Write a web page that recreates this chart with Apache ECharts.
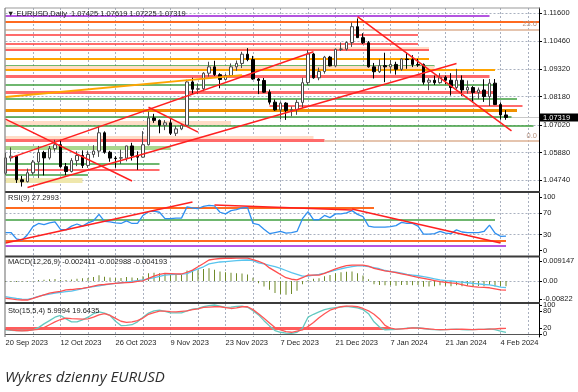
<!DOCTYPE html>
<html><head><meta charset="utf-8">
<script src="https://cdn.jsdelivr.net/npm/echarts@6/dist/echarts.min.js"></script>
<style>html,body{margin:0;padding:0;background:#fff;overflow:hidden}#c{width:578px;height:392px}</style>
</head><body><div id="c"></div>
<script>
// ---------- DATA ----------
const sessionDays = [
  ['Sep 2023',[28,29]],
  ['Oct 2023',[2,3,4,5,6,9,10,11,12,13,16,17,18,19,20,23,24,25,26,27,30,31]],
  ['Nov 2023',[1,2,3,6,7,8,9,10,13,14,15,16,17,20,21,22,23,24,27,28,29,30]],
  ['Dec 2023',[1,4,5,6,7,8,11,12,13,14,15,18,19,20,21,22,26,27,28,29]],
  ['Jan 2024',[2,3,4,5,8,9,10,11,12,15,16,17,18,19,22,23,24,25,26,29,30,31]],
  ['Feb 2024',[1,2,5,6]]
];
const emptySlots = ['f1','f2','f3','f4','f5','f6'];
const tickIndex = [0,10,20,30,40,50,60,70,80,90];
const tickLabels = ['20 Sep 2023','12 Oct 2023','26 Oct 2023','9 Nov 2023','23 Nov 2023','7 Dec 2023','21 Dec 2023','7 Jan 2024','21 Jan 2024','4 Feb 2024'];

const opens = [1.0503,1.0566,1.0573,1.0476,1.0468,1.0505,1.0549,1.0588,1.0566,1.0604,
1.0620,1.0530,1.0510,1.0555,1.0576,1.0535,1.0580,1.0594,1.0669,1.0589,
1.0565,1.0565,1.0565,1.0615,1.0576,1.0569,1.0620,1.0730,1.0720,1.0700,
1.0710,1.0667,1.0685,1.0700,1.0878,1.0848,1.0850,1.0914,1.0940,1.0908,
1.0888,1.0904,1.0940,1.0954,1.0992,1.0970,1.0890,1.0884,1.0836,1.0795,
1.0763,1.0791,1.0761,1.0764,1.0794,1.0875,1.0993,1.0895,1.0921,1.0980,
1.0944,1.1012,1.1013,1.1040,1.1105,1.1060,1.1039,1.0940,1.0920,1.0945,
1.0940,1.0950,1.0930,1.0972,1.0970,1.0950,1.0950,1.0877,1.0885,1.0875,
1.0897,1.0885,1.0855,1.0885,1.0845,1.0855,1.0835,1.0845,1.0818,1.0873,
1.0785,1.07425];
const highs = [1.0587,1.0609,1.0578,1.0492,1.0522,1.0557,1.0615,1.0595,1.0615,1.0640,
1.0640,1.0545,1.0565,1.0593,1.0597,1.0596,1.0618,1.0695,1.0675,1.0595,
1.0573,1.0600,1.0616,1.0628,1.0593,1.0676,1.0756,1.0747,1.0724,1.0721,
1.0725,1.0697,1.0706,1.0887,1.0895,1.0872,1.0918,1.0961,1.0965,1.0914,
1.0911,1.0954,1.0966,1.1002,1.1017,1.0985,1.0894,1.0894,1.0847,1.0806,
1.0797,1.0795,1.0777,1.0805,1.0895,1.1009,1.0997,1.0937,1.0985,1.0985,
1.1016,1.1040,1.1045,1.1122,1.1139,1.1078,1.1046,1.0956,1.0971,1.0998,
1.0968,1.0961,1.0975,1.0999,1.0988,1.0973,1.0954,1.0894,1.0904,1.0914,
1.0904,1.0914,1.0932,1.0905,1.0884,1.0861,1.0855,1.0889,1.0890,1.0890,
1.0794,1.07619];
const lows = [1.0496,1.0551,1.0463,1.0448,1.0465,1.0497,1.0483,1.0494,1.0559,1.0592,
1.0525,1.0495,1.0506,1.0532,1.0524,1.0525,1.0567,1.0570,1.0583,1.0550,
1.0525,1.0541,1.0552,1.0555,1.0517,1.0567,1.0617,1.0710,1.0667,1.0680,
1.0660,1.0656,1.0680,1.0695,1.0828,1.0828,1.0840,1.0900,1.0903,1.0852,
1.0885,1.0903,1.0924,1.0935,1.0963,1.0887,1.0828,1.0833,1.0785,1.0759,
1.0724,1.0722,1.0737,1.0743,1.0770,1.0865,1.0891,1.0885,1.0912,1.0942,
1.0938,1.1005,1.1007,1.1022,1.1059,1.1034,1.0937,1.0892,1.0915,1.0877,
1.0915,1.0908,1.0924,1.0932,1.0939,1.0940,1.0867,1.0844,1.0866,1.0871,
1.0869,1.0822,1.0848,1.0821,1.0830,1.0795,1.0808,1.0796,1.0779,1.0783,
1.0723,1.07225];
const closes = [1.0566,1.0573,1.0476,1.0468,1.0505,1.0549,1.0588,1.0566,1.0604,1.0620,
1.0530,1.0510,1.0555,1.0576,1.0535,1.0580,1.0594,1.0669,1.0589,1.0565,
1.0563,1.0567,1.0615,1.0576,1.0569,1.0620,1.0730,1.0720,1.0700,1.0710,
1.0667,1.0685,1.0700,1.0878,1.0848,1.0850,1.0914,1.0940,1.0908,1.0888,
1.0904,1.0940,1.0954,1.0992,1.0970,1.0890,1.0884,1.0836,1.0795,1.0763,
1.0791,1.0761,1.0764,1.0794,1.0875,1.0993,1.0895,1.0921,1.0980,1.0944,
1.1012,1.1013,1.1040,1.1105,1.1060,1.1039,1.0940,1.0920,1.0945,1.0940,
1.0950,1.0930,1.0972,1.0970,1.0950,1.0948,1.0877,1.0885,1.0875,1.0897,
1.0885,1.0855,1.0885,1.0845,1.0855,1.0835,1.0845,1.0818,1.0873,1.0785,
1.07425,1.07319];

const rsiValues = [34,34,22,20,30,45,51,49,52,54, 40,39,46,50,46,52,56,68,55,54,
52,51,56,51,51,66,73,74,72,60, 60,61,61,82,80,79,83,85,84,72,
69,75,77,80,81,51,49,40,32,34, 36,33,34,36,60,73,58,58,66,62,
69,69,71,75,68,64,46,44,44,44, 45,47,53,51,51,46,31,31,32,36,
33,32,39,35,34,34,34,36,48,33, 27,27.2993];

const macdHist = [-0.0003,-0.0004,-0.0005,-0.0004,-0.0003,-0.0002,0.0004,0.0006,0.0008,0.0009,
0.0005,0.0004,0.0007,0.0010,0.0012,0.0014,0.0018,0.0026,0.0020,0.0016,
0.0014,0.0014,0.0018,0.0016,0.0014,0.0022,0.0036,0.0038,0.0036,0.0034,
0.0028,0.0027,0.0027,0.0048,0.0050,0.0049,0.0055,0.0058,0.0052,0.0044,
0.0040,0.0038,0.0036,0.0034,0.0030,0.0015,-0.0010,-0.0025,-0.0040,-0.0055,
-0.0060,-0.0063,-0.0060,-0.0045,-0.0015,0.0005,0.0010,0.0012,0.0022,0.0028,
0.0036,0.0040,0.0042,0.0043,0.0035,0.0025,0.0008,-0.0015,-0.0018,-0.0020,
-0.0020,-0.0022,-0.0018,-0.0018,-0.0020,-0.0018,-0.0026,-0.0025,-0.0024,-0.0020,
-0.0022,-0.0024,-0.0020,-0.0024,-0.0022,-0.0024,-0.0023,-0.0024,-0.0018,-0.0025,
-0.0024,-0.002411];
const macdBlue = [-0.0072,-0.0076,-0.0080,-0.0083,-0.0084,-0.0078,-0.0070,-0.0064,-0.0060,-0.0055,
-0.0052,-0.0049,-0.0046,-0.0041,-0.0035,-0.0029,-0.0026,-0.0022,-0.0018,-0.0014,
-0.0011,-0.0008,-0.0005,-0.0002,0.0002,0.0005,0.0010,0.0015,0.0021,0.0027,
0.0029,0.0030,0.0031,0.0034,0.0045,0.0055,0.0065,0.0078,0.0083,0.0087,
0.0089,0.0091,0.0093,0.0095,0.0096,0.0093,0.0083,0.0078,0.0072,0.0066,
0.0058,0.0048,0.0038,0.0030,0.0022,0.0022,0.0027,0.0030,0.0036,0.0043,
0.0050,0.0056,0.0061,0.0066,0.0069,0.0069,0.0066,0.0061,0.0056,0.0048,
0.0043,0.0040,0.0036,0.0030,0.0027,0.0024,0.0020,0.0015,0.0010,0.0005,
0.0002,0.0000,-0.0003,-0.0005,-0.0008,-0.0011,-0.0013,-0.0016,-0.0018,-0.0022,
-0.0028,-0.002988];
const macdRed = [-0.0079,-0.0082,-0.0085,-0.0087,-0.0087,-0.0080,-0.0072,-0.0064,-0.0056,-0.0051,
-0.0047,-0.0041,-0.0039,-0.0036,-0.0034,-0.0029,-0.0023,-0.0018,-0.0016,-0.0013,
-0.0011,-0.0009,-0.0007,-0.0006,-0.0002,0.0001,0.0012,0.0022,0.0030,0.0035,
0.0034,0.0033,0.0032,0.0040,0.0050,0.0065,0.0080,0.0096,0.0100,0.0103,
0.0104,0.0104,0.0105,0.0105,0.0105,0.0098,0.0090,0.0080,0.0060,0.0045,
0.0030,0.0015,0.0008,0.0005,0.0015,0.0027,0.0027,0.0027,0.0035,0.0045,
0.0055,0.0063,0.0070,0.0073,0.0073,0.0073,0.0068,0.0058,0.0052,0.0046,
0.0043,0.0038,0.0033,0.0028,0.0022,0.0017,0.0012,0.0007,0.0002,-0.0003,
-0.0006,-0.0009,-0.0011,-0.0017,-0.0022,-0.0026,-0.0028,-0.0029,-0.0031,-0.0036,
-0.0041,-0.004193];

const stochK = [14,13,12,12,12,14,22,35,46,58, 64,52,42,42,49,58,70,76,72,64,
44,29,30,32,42,58,72,80,82,78, 73,73,73,80,86,88,94,98,100,96,
92,93,95,96,92,80,66,46,28,12, 6,3,2,6,20,58,68,76,84,88,
91,94,95,93,90,84,70,42,24,14, 15,16,18,20,21,22,19,16,15,14,
15,16,17,15,14,15,16,16,18,15, 10,5.9994];
const stochD = [16,14,12,11,12,14,16,22,32,42, 50,55,53,52,51,52,58,66,70,64,
54,44,40,42,46,55,68,74,79,79, 77,76,78,80,84,87,92,93,94,94,
91,88,90,94,94,84,70,54,38,22, 14,8,6,10,14,26,40,56,70,82,
88,94,96,96,94,88,80,68,52,30, 20,17,18,19,21,20,19,18,16,15,
15,16,16,17,16,15,16,16,17,18, 19,19.6435];

// axis tick labels
const priceTicks = [1.1160,1.1046,1.0932,1.0818,1.0702,1.0588,1.0474];
const priceTickLabels = ['1.11600','1.10460','1.09320','1.08180','1.07020','1.05880','1.04740'];
const rsiTicks = [100,70,30,0];
const macdTicks = [0.009147,0,-0.00822];
const macdTickLabels = ['0.009147','0.00','-0.00822'];
const stochTicks = [100,80,20,0];
const stochTickLabels = ['100','80','20','0'];

// drawn support / resistance levels (price, from bar, to bar, kind)
const levelPrice = [1.11489,1.11255,1.10943,1.10708,1.10367,1.10154,1.10092,1.09751,1.09447,1.09353,
  1.09270,1.08995,1.08683,1.08367,1.08079,1.07791,1.07607,1.07340,1.07093,1.06990,
  1.06477,1.06366,1.06366,1.06066,1.05437,1.05162,1.04985,1.04751];
const levelFrom = [0,0,0,0,0,0,0,0,0,0, 0,0,0,0,0,48,0,0,0,0, 0,0,58,0,0,0,0,0];
const levelTo   = [88,97,97,75,75,77,77,77,78,78, 89,88,89,89,93,94,93,92,41,96, 56,58,97,30,28,28,15,14];
const levelKind = ['purple','orangered','tan','red','red','peach','red','orange','green','peach',
  'orange','redThick','green','redThick','green','red','orangeThick','green','peach','green',
  'peach','redThick','tan','greenBand','green','red','green','khaki'];
const fibLevels = [1.10943, 1.06366];
const fibNames = ['23.6','0.0'];

// trend lines [bar, price] -> [bar, price]
const trendStart = [[64,1.1146],[4,1.0444],[1,1.0567],[0,1.0725],[26,1.0774]];
const trendEnd   = [[92,1.0677],[82,1.0954],[56,1.1002],[23,1.0471],[35,1.0672]];
const orangeTrend = [[0,1.0816],[43,1.0906]];

// RSI drawn lines
const rsiTrendStart = [[0,14.4],[38,85.6],[63,78]];
const rsiTrendEnd   = [[34,91],[63,76.2],[90,14.4]];
const rsiLevel = [81,57.5,19,9.4];
const rsiLevelTo = [67,89,91,91];
const rsiLevelKind = ['orangered','green','orangered','purple'];
const stochLevel = 20, stochLevelTo = 70;

const titleText = '\u25BC EURUSD,Daily  1.07425 1.07619 1.07225 1.07319';
const rsiTitle = 'RSI(9) 27.2993';
const macdTitle = 'MACD(12,26,9) -0.002411 -0.002988 -0.004193';
const stochTitle = 'Sto(15,5,4) 5.9994 19.6435';
const caption = 'Wykres dzienny EURUSD';
const lastPrice = 1.07319;

// ---------- BUILD ----------
const categories = [];
sessionDays.forEach(([m, ds]) => ds.forEach(d => categories.push(d + ' ' + m)));
emptySlots.forEach(s => categories.push(s));
const tickMap = {};
tickIndex.forEach((t, i) => tickMap[t] = tickLabels[i]);

const STY = {
  purple:{color:'#b455e0',width:2},
  orangered:{color:'#ff6a1f',width:2},
  tan:{color:'#ddb093',width:1.5},
  red:{color:'#ff3a3a',width:1.5},
  redThick:{color:'#ff6a6a',width:3},
  peach:{color:'#ffdcc6',width:4},
  orange:{color:'#ffa400',width:2},
  orangeThick:{color:'#f09000',width:3},
  green:{color:'#3f9f3f',width:1.5},
  greenBand:{color:'#a9d78e',width:4},
  khaki:{color:'#efe7ac',width:5}
};
const FONT = 'Liberation Sans';
const grids = [
  {left:5.5, width:533.5, top:8, height:184},
  {left:5.5, width:533.5, top:193, height:63},
  {left:5.5, width:533.5, top:257, height:45},
  {left:5.5, width:533.5, top:304, height:33}
];
const gridLine = {color:'#a9b0bf', width:1, type:[2,2]};
function xAx(i){
  return {type:'category', gridIndex:i, data:categories, boundaryGap:false,
    axisLine:{show:i===3, lineStyle:{color:'#555'}}, axisTick:{show:false},
    axisLabel:{show:i===3, interval:(idx)=>tickMap[idx]!==undefined, formatter:(v,idx)=>tickMap[idx]||'',
      align:'left', fontSize:7.5, fontFamily:FONT, color:'#222', margin:2},
    splitLine:{show:true, interval:(idx)=>idx>0 && idx%5===0, lineStyle:gridLine}};
}
function yAx(i, min, max, ticks, fmt, showLabels){
  return {type:'value', gridIndex:i, position:'right', min, max, scale:true,
    axisLine:{show:true, lineStyle:{color:'#000', width:1}},
    axisTick:{show:true, customValues:ticks, length:3, lineStyle:{color:'#000'}},
    axisLabel:{show:showLabels, customValues:ticks, formatter:fmt, fontSize:7.5, fontFamily:FONT, color:'#222', margin:4,
      hideOverlap:false, showMinLabel:true, showMaxLabel:true},
    splitLine:{show:false}};
}
function nearestLabel(ticks, labels){
  return v => { let b=0; ticks.forEach((t,i)=>{ if (Math.abs(t-v) < Math.abs(ticks[b]-v)) b=i; }); return labels[b]; };
}
function hSeg(gi, x1, x2, y, style){
  return {coords:[[x1,y],[x2,y]], lineStyle:Object.assign({opacity:1}, style)};
}
const lastIdx = categories.length - 1;

const gridMain = priceTicks.map(p => hSeg(0, 0, lastIdx, p, gridLine));
const levelData = levelPrice.map((p,i) => hSeg(0, levelFrom[i], levelTo[i], p, STY[levelKind[i]]));
const trendData = trendStart.map((s,i) => ({coords:[s, trendEnd[i]], lineStyle:{color:'#ff2020', width:1.5, opacity:1}}));
trendData.push({coords:orangeTrend, lineStyle:{color:'#ffa400', width:2, opacity:1}});
const priceLine = [hSeg(0, 0, lastIdx, lastPrice, {color:'#c8c8c8', width:1})];

const rsiGrid = [70,30].map(v => hSeg(1, 0, lastIdx, v, gridLine));
const rsiLevels = rsiLevel.map((v,i) => hSeg(1, 0, rsiLevelTo[i], v, STY[rsiLevelKind[i]]));
const rsiTrends = rsiTrendStart.map((s,i) => ({coords:[s, rsiTrendEnd[i]], lineStyle:{color:'#ff2020', width:1.5, opacity:1}}));
const macdGrid = [hSeg(2, 0, lastIdx, 0, gridLine)];
const stochLine = [hSeg(3, 0, stochLevelTo, stochLevel, {color:'#ff4a4a', width:3, opacity:0.9})];

function linesSeries(gi, data, z){
  return {type:'lines', coordinateSystem:'cartesian2d', xAxisIndex:gi, yAxisIndex:gi, data, z, silent:true, animation:false, polyline:false};
}

const option = {
  animation:false,
  backgroundColor:'#ffffff',
  grid: grids,
  xAxis: [xAx(0), xAx(1), xAx(2), xAx(3)],
  yAxis: [
    yAx(0, 1.04258, 1.11818, priceTicks, nearestLabel(priceTicks, priceTickLabels), true),
    yAx(1, -9.93, 108.05, rsiTicks, v => String(Math.round(v)), true),
    yAx(2, -0.00961, 0.01098, macdTicks, nearestLabel(macdTicks, macdTickLabels), true),
    yAx(3, -10.34, 103.45, stochTicks, v => String(Math.round(v)), false)
  ],
  series: [
    linesSeries(0, gridMain, 1),
    linesSeries(0, priceLine, 1),
    linesSeries(0, levelData, 2),
    {type:'candlestick', xAxisIndex:0, yAxisIndex:0, z:5, barWidth:3,
      data: opens.map((o,i) => [o, closes[i], lows[i], highs[i]]),
      itemStyle:{color:'#ffffff', color0:'#000000', borderColor:'#4a4a4a', borderColor0:'#000000', borderWidth:1}},
    linesSeries(0, trendData, 6),
    linesSeries(1, rsiGrid, 1),
    linesSeries(1, rsiLevels, 2),
    {type:'line', xAxisIndex:1, yAxisIndex:1, data:rsiValues, symbol:'none', z:4,
      lineStyle:{color:'#2f8ff0', width:1.3}},
    linesSeries(1, rsiTrends, 5),
    linesSeries(2, macdGrid, 1),
    {type:'bar', xAxisIndex:2, yAxisIndex:2, data:macdHist, barWidth:1, z:3,
      itemStyle:{color:'#6f8a2a'}},
    {type:'line', xAxisIndex:2, yAxisIndex:2, data:macdBlue, symbol:'none', z:4,
      lineStyle:{color:'#58c4ee', width:1.3}},
    {type:'line', xAxisIndex:2, yAxisIndex:2, data:macdRed, symbol:'none', z:4,
      lineStyle:{color:'#ff4d4d', width:1.3}},
    linesSeries(3, stochLine, 2),
    {type:'line', xAxisIndex:3, yAxisIndex:3, data:stochK, symbol:'none', z:4,
      lineStyle:{color:'#63c9c0', width:1.3}},
    {type:'line', xAxisIndex:3, yAxisIndex:3, data:stochD, symbol:'none', z:4,
      lineStyle:{color:'#ff5656', width:1.3}}
  ]
};

const chart = echarts.init(document.getElementById('c'), null, {renderer:'canvas', width:578, height:392});
chart.setOption(option);

const px = (gi, pt) => chart.convertToPixel({xAxisIndex:gi, yAxisIndex:gi}, pt);
const txt = (text, x, y, extra) => ({type:'text', silent:true, z:100, style:Object.assign({text, x, y, fill:'#222', font:'7.5px "Liberation Sans"', verticalAlign:'middle'}, extra||{})});
const sepRect = (y, h) => ({type:'rect', silent:true, z:90, shape:{x:5, y, width:535, height:h}, style:{fill:'#3b3b3b'}});
const g = [
  sepRect(191, 2), sepRect(255.5, 2), sepRect(302, 2),
  {type:'rect', silent:true, z:90, shape:{x:5, y:7.5, width:535, height:1}, style:{fill:'#9a9a9a'}},
  {type:'rect', silent:true, z:90, shape:{x:4.5, y:8, width:1, height:329}, style:{fill:'#6a6a6a'}},
  txt(titleText, 7, 14),
  txt(rsiTitle, 8, 198),
  txt(macdTitle, 8, 262),
  txt(stochTitle, 8, 310.5),
  txt(caption, 5, 378, {font:'italic 15px "Open Sans"', fill:'#2e2e2e'})
];
// stochastic scale labels drawn overlapping, as in the reference
stochTicks.forEach((v,i) => {
  const p = px(3, [lastIdx, v]);
  g.push(txt(stochTickLabels[i], 543, p[1]));
});
fibLevels.forEach((f,i) => {
  const p = px(0, [lastIdx, f]);
  g.push(txt(fibNames[i], 537, p[1]-5, {align:'right', fill:'#b99480'}));
});
const lp = px(0, [lastIdx, lastPrice]);
g.push({type:'rect', silent:true, z:95, shape:{x:540, y:lp[1]-4, width:38, height:8}, style:{fill:'#000'}});
g.push(txt('1.07319', 543, lp[1], {fill:'#fff', z:101}));
chart.setOption({graphic:g});
</script></body></html>
